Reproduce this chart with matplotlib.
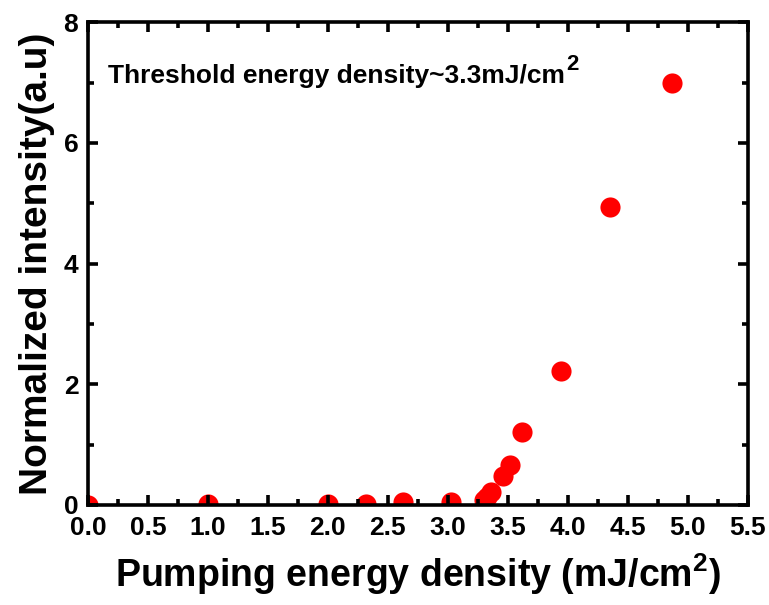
import matplotlib
matplotlib.use("Agg")
import matplotlib.pyplot as plt
from matplotlib.ticker import MultipleLocator

energy = [0.0, 1.0, 2.0, 2.32, 2.63, 3.03, 3.30, 3.33, 3.36, 3.46, 3.52, 3.62, 3.94, 4.35, 4.87]
intensity = [0.0, 0.02, 0.01, 0.01, 0.05, 0.05, 0.08, 0.14, 0.22, 0.48, 0.66, 1.21, 2.22, 4.94, 6.99]

xticks = [0.0, 0.5, 1.0, 1.5, 2.0, 2.5, 3.0, 3.5, 4.0, 4.5, 5.0, 5.5]
yticks = [0, 2, 4, 6, 8]

plt.rcParams['font.family'] = ['Liberation Sans', 'DejaVu Sans']
plt.rcParams['font.weight'] = 'bold'
plt.rcParams['mathtext.fontset'] = 'custom'
plt.rcParams['mathtext.rm'] = 'Liberation Sans:bold'
plt.rcParams['mathtext.bf'] = 'Liberation Sans:bold'

fig = plt.figure(figsize=(7.69, 6.05), dpi=100)
ax = fig.add_axes([0.1144, 0.1653, 0.858, 0.798])

ax.plot(energy, intensity, 'o', color='#ff0000', markersize=14.5, markeredgewidth=0, zorder=1.5)

ax.set_xlim(0, 5.5)
ax.set_ylim(0, 8)
ax.set_xticks(xticks)
ax.set_xticklabels([f"{v:.1f}" for v in xticks])
ax.set_yticks(yticks)
ax.set_yticklabels([str(v) for v in yticks])
ax.xaxis.set_minor_locator(MultipleLocator(0.25))
ax.yaxis.set_minor_locator(MultipleLocator(1))

for s in ax.spines.values():
    s.set_linewidth(2.6)
    s.set_zorder(3)
ax.tick_params(which='both', direction='in', top=True, right=True, width=2.6)
ax.tick_params(which='major', length=7, labelsize=19)
ax.tick_params(axis='x', which='major', pad=8)
ax.tick_params(axis='y', which='major', pad=7)
ax.tick_params(which='minor', length=4)
for lab in ax.get_xticklabels() + ax.get_yticklabels():
    lab.set_fontweight('bold')

ax.set_xlabel(r'Pumping energy density (mJ/cm$^{\mathbf{2}}$)', fontsize=27, fontweight='bold', labelpad=8)
ax.set_ylabel('Normalized intensity(a.u)', fontsize=28, fontweight='bold', labelpad=6)

t = ax.text(0.031, 0.889, 'Threshold energy density~3.3mJ/cm', transform=ax.transAxes,
            fontsize=19, fontweight='bold', va='center', ha='left')
ax.annotate('2', xy=(1.0, 0.55), xycoords=t, xytext=(1, 0), textcoords='offset points',
            fontsize=16, fontweight='bold', va='bottom', ha='left')

fig.savefig('out.png', dpi=100)
